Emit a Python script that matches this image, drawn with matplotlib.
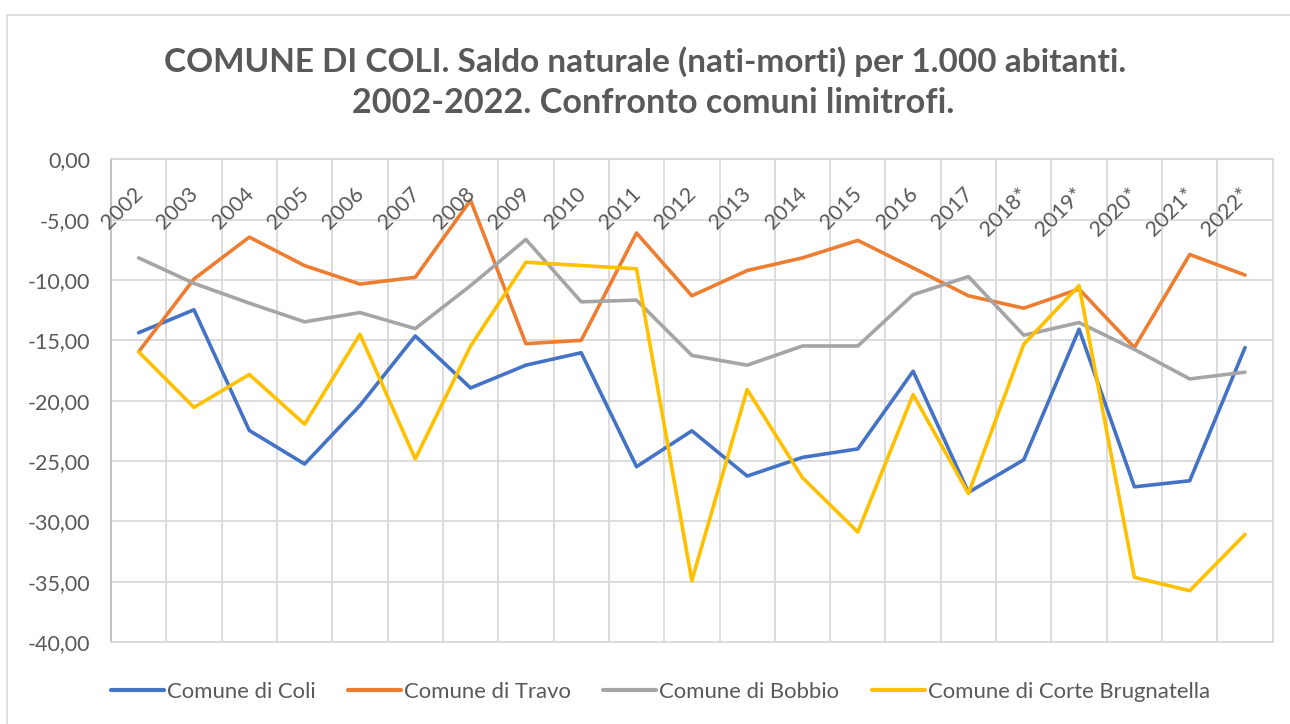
import matplotlib
matplotlib.use("Agg")
import matplotlib.pyplot as plt
from matplotlib.patches import Rectangle
from matplotlib.ticker import FuncFormatter, FixedLocator

plt.rcParams['font.family'] = ['Lato', 'DejaVu Sans']

anni = ["2002", "2003", "2004", "2005", "2006", "2007", "2008", "2009", "2010",
        "2011", "2012", "2013", "2014", "2015", "2016", "2017", "2018*", "2019*",
        "2020*", "2021*", "2022*"]

coli = [-14.37, -12.47, -22.47, -25.25, -20.4, -14.64, -18.95, -17.06, -16.03,
        -25.47, -22.5, -26.25, -24.7, -24.0, -17.56, -27.6, -24.9, -14.08,
        -27.14, -26.64, -15.6]
travo = [-15.95, -9.92, -6.45, -8.81, -10.34, -9.78, -3.39, -15.28, -15.0,
         -6.11, -11.31, -9.22, -8.17, -6.72, -9.0, -11.31, -12.34, -10.75,
         -15.6, -7.89, -9.59]
bobbio = [-8.17, -10.28, -11.92, -13.47, -12.7, -14.03, -10.47, -6.64, -11.81,
          -11.67, -16.25, -17.06, -15.47, -15.47, -11.22, -9.72, -14.58, -13.53,
          -15.75, -18.2, -17.64]
corte = [-15.95, -20.56, -17.83, -21.95, -14.5, -24.83, -15.47, -8.53, -8.8,
         -9.08, -34.92, -19.08, -26.39, -30.89, -19.5, -27.7, -15.33, -10.47,
         -34.64, -35.75, -31.08]

serie = [("Comune di Coli", coli, "#4472C4"),
         ("Comune di Travo", travo, "#ED7D31"),
         ("Comune di Bobbio", bobbio, "#A5A5A5"),
         ("Comune di Corte Brugnatella", corte, "#FFC000")]

testo = "#595959"
griglia = "#D9D9D9"

fig = plt.figure(figsize=(12.9, 7.24), dpi=100)
ax = fig.add_axes([111 / 1290, 1 - 642 / 724, (1272.7 - 111) / 1290, (642 - 159.3) / 724])

# bordo dell'area del grafico
fig.patches.append(Rectangle((7.3 / 1290, -0.1), 1.2, 1.1 - 14.7 / 724,
                             transform=fig.transFigure, fill=False,
                             edgecolor=griglia, linewidth=1.2))

x = list(range(len(anni)))
for nome, valori, colore in serie:
    ax.plot(x, valori, color=colore, linewidth=2.6, label=nome,
            solid_joinstyle='round', solid_capstyle='round', zorder=3)

ax.set_xlim(-0.5, len(anni) - 0.5)
ax.set_ylim(-40, 0)
ax.set_yticks(range(-40, 1, 5))
ax.yaxis.set_major_formatter(FuncFormatter(lambda v, p: f"{v:.2f}".replace(".", ",")))
ax.xaxis.set_major_locator(FixedLocator([i - 0.5 for i in range(len(anni) + 1)]))
ax.set_xticklabels([])
ax.tick_params(axis='both', length=0, colors=testo, labelsize=15.5)
ax.tick_params(axis='y', pad=15)
ax.grid(True, color=griglia, linewidth=1.3, zorder=0)
ax.set_axisbelow(True)
for s in ax.spines.values():
    s.set_color(griglia)
    s.set_linewidth(1.3)
ax.spines['left'].set_color("#BFBFBF")

# etichette delle categorie sotto l'asse (che sta a quota 0)
for i, lab in enumerate(anni):
    ax.annotate(lab, (i, 0), xytext=(3.9, -25.7), textcoords='offset points',
                rotation=45, rotation_mode='anchor', ha='right', va='baseline',
                fontsize=15.5, color=testo)

fig.text(0.5, 1 - 62 / 724, "COMUNE DI COLI. Saldo naturale (nati-morti) per 1.000 abitanti.",
         ha='center', va='center', fontsize=24, fontweight='bold', color=testo)
fig.text(0.506, 1 - 103 / 724, "2002-2022. Confronto comuni limitrofi.",
         ha='center', va='center', fontsize=24.6, fontweight='bold', color=testo)

leg = fig.legend(loc='center', bbox_to_anchor=(0.512, 1 - 692 / 724), ncol=4,
                 frameon=False, fontsize=15.9, handlelength=2.4, handletextpad=0.15,
                 columnspacing=1.45, labelcolor=testo)
for h in leg.get_lines():
    h.set_linewidth(3)

fig.savefig("out.png", dpi=100)
